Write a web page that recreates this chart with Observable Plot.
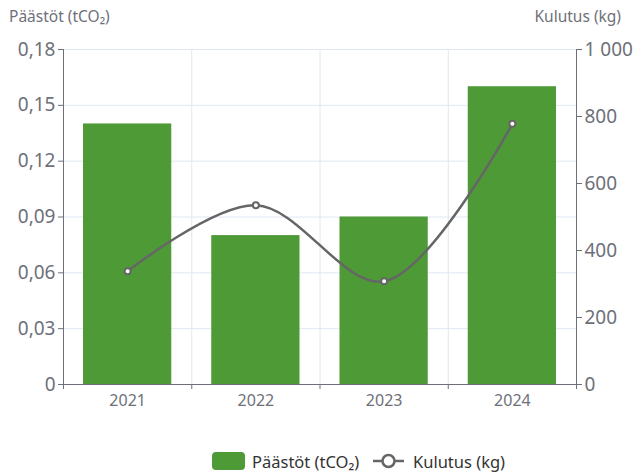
<!DOCTYPE html>
<html>
<head>
<meta charset="utf-8">
<script src="https://cdn.jsdelivr.net/npm/d3@7"></script>
<script src="https://cdn.jsdelivr.net/npm/@observablehq/plot@0.6"></script>
<style>
  body { margin: 0; font-family: "Noto Sans", sans-serif; background: #fff; }
  #titles { height: 30px; position: relative; font-size: 15.5px; color: #6e7079; }
  #titles .l { position: absolute; left: 9px; top: 5px; }
  #titles .r { position: absolute; right: 19px; top: 5px; }
  #legend { position: relative; height: 30px; margin-top: 22px; font-size: 16.5px; color: #333; }
  #legend .item { position: absolute; top: 0; display: flex; align-items: center; height: 18px; }
  #legend .sw { width: 33px; height: 18px; border-radius: 4px; background: #4d9a37; margin-right: 7px; }
</style>
</head>
<body>
<div id="titles"><span class="l">Päästöt (tCO₂)</span><span class="r">Kulutus (kg)</span></div>
<div id="chart"></div>
<div id="legend">
  <div class="item" style="left:212px"><div class="sw"></div><span>Päästöt (tCO₂)</span></div>
  <div class="item" style="left:372px"><svg width="33" height="18" style="margin-right:8px"><line x1="1" y1="9" x2="32" y2="9" stroke="#666" stroke-width="2.5"/><circle cx="16.5" cy="9" r="6" fill="#fff" stroke="#666" stroke-width="2.5"/></svg><span>Kulutus (kg)</span></div>
</div>
<script>
const years = ["2021", "2022", "2023", "2024"];
const emissions = [0.14, 0.08, 0.09, 0.16];   // tCO2
const consumption = [338, 535, 308, 778];     // kg
const leftTicks = [0, 0.03, 0.06, 0.09, 0.12, 0.15, 0.18];
const rightTicks = [0, 200, 400, 600, 800, 1000];
const leftMax = 0.18, rightMax = 1000;

const k = leftMax / rightMax;
const loc = d3.formatLocale({decimal: ",", thousands: "\u00a0", grouping: [3], currency: ["", "€"]});
const fLeft = v => v === 0 ? "0" : loc.format(".2f")(v);
const fRight = v => loc.format(",.0f")(Math.round(v / k)).replace("\u00a0", " ");

const data = years.map((y, i) => ({year: y, i, em: emissions[i], kg: consumption[i]}));
const axisColor = "#6e7079";
const grid = "#e0e6f1";

const chart = Plot.plot({
  width: 640,
  height: 400,
  marginTop: 19,
  marginBottom: 46,
  marginLeft: 63,
  marginRight: 64,
  style: {fontFamily: "Noto Sans, sans-serif", color: axisColor, background: "#fff"},
  x: {type: "linear", domain: [0, years.length], axis: null},
  y: {domain: [0, leftMax], axis: null},
  marks: [
    Plot.gridY(leftTicks, {stroke: grid, strokeOpacity: 1}),
    Plot.ruleX(d3.range(1, years.length), {stroke: grid, strokeOpacity: 1}),
    Plot.rectY(data, {x1: d => d.i, x2: d => d.i + 1, y: "em", insetLeft: 20, insetRight: 20, fill: "#4d9a37"}),
    Plot.ruleX([0, years.length], {stroke: axisColor, strokeWidth: 1}),
    Plot.ruleY([0], {stroke: axisColor, strokeWidth: 1}),
    Plot.axisY(leftTicks, {anchor: "left", tickSize: 5, tickPadding: 3, fontSize: 19, tickFormat: fLeft, label: null, color: axisColor}),
    Plot.axisY(rightTicks.map(v => v * k), {anchor: "right", tickSize: 5, tickPadding: 3, fontSize: 19, tickFormat: fRight, label: null, color: axisColor}),
    Plot.axisX(d3.range(years.length + 1), {anchor: "bottom", tickSize: 5, tickFormat: () => "", label: null, color: axisColor}),
    Plot.axisX(years.map((y, i) => i + 0.5), {anchor: "bottom", tickSize: 0, tickPadding: 10, fontSize: 16, tickFormat: v => years[Math.floor(v)], label: null, color: axisColor}),
    Plot.line(data, {x: d => d.i + 0.5, y: d => d.kg * k, curve: "catmull-rom", stroke: "#666", strokeWidth: 2.5}),
    Plot.dot(data, {x: d => d.i + 0.5, y: d => d.kg * k, r: 3, fill: "#fff", stroke: "#666", strokeWidth: 2})
  ]
});
document.getElementById("chart").appendChild(chart);
</script>
</body>
</html>
